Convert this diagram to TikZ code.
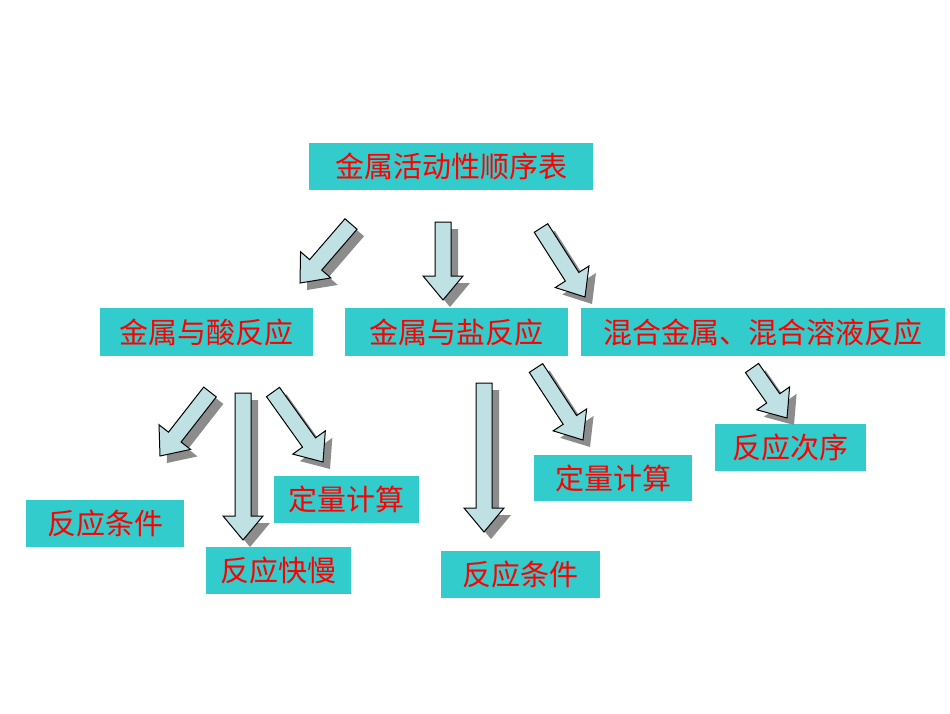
\documentclass[tikz,border=0pt]{standalone}
\usepackage{fontspec}
\setmainfont{Noto Sans CJK SC}
\usetikzlibrary{calc}
\definecolor{boxc}{HTML}{33CCCC}
\definecolor{arrc}{HTML}{BFE1E4}
\tikzset{lbl/.style={fill=boxc,text=red,font=\fontsize{29}{30}\selectfont,anchor=north west,inner sep=0pt,align=center}}
\newcommand\mybox[6]{\node[lbl,minimum width=#4pt-#2pt,minimum height=#5pt-#3pt] (#1) at (#2,#3) {#6};}
\newcommand\barrowshape[3]{%
 \coordinate (A) at #1; \coordinate (B) at #2;
 \coordinate (H) at ($(B)!24pt!(A)$);
 \filldraw[#3] ($(A)!8pt!90:(B)$) -- ($(H)!8pt!-90:(A)$) -- ($(H)!20pt!-90:(A)$) -- (B) -- ($(H)!20pt!90:(A)$) -- ($(H)!8pt!90:(A)$) -- ($(A)!8pt!-90:(B)$) -- cycle;}
\newcommand\barrow[2]{%
 \barrowshape{($#1+(7,7)$)}{($#2+(7,7)$)}{fill=gray!90,draw=none}
 \barrowshape{#1}{#2}{fill=arrc,draw=black,line width=1pt}}
\begin{document}
\begin{tikzpicture}[x=1pt,y=-1pt]
\useasboundingbox (0,0) rectangle (950,713);
\mybox{t}{309}{143}{593}{190}{金属活动性顺序表}
\mybox{a}{100}{308}{313}{356}{金属与酸反应}
\mybox{b}{345}{308}{568}{356}{金属与盐反应}
\mybox{c}{581}{308}{945}{356}{混合金属、混合溶液反应}
\mybox{a1}{26}{500}{184}{547}{反应条件}
\mybox{a2}{206}{547}{351}{594}{反应快慢}
\mybox{a3}{274}{476}{419}{523}{定量计算}
\mybox{b1}{441}{551}{600}{598}{反应条件}
\mybox{b2}{534}{455}{692}{501}{定量计算}
\mybox{c1}{715}{424}{866}{471}{反应次序}
\barrow{(351,224)}{(300,283)}
\barrow{(443,222)}{(443,300)}
\barrow{(541,228)}{(585,297)}
\barrow{(210,392)}{(160,456)}
\barrow{(243,393)}{(243,540)}
\barrow{(273,392)}{(323,462)}
\barrow{(484,383)}{(484,532)}
\barrow{(536,368)}{(583,440)}
\barrow{(752,368)}{(787,418)}
\end{tikzpicture}
\end{document}
